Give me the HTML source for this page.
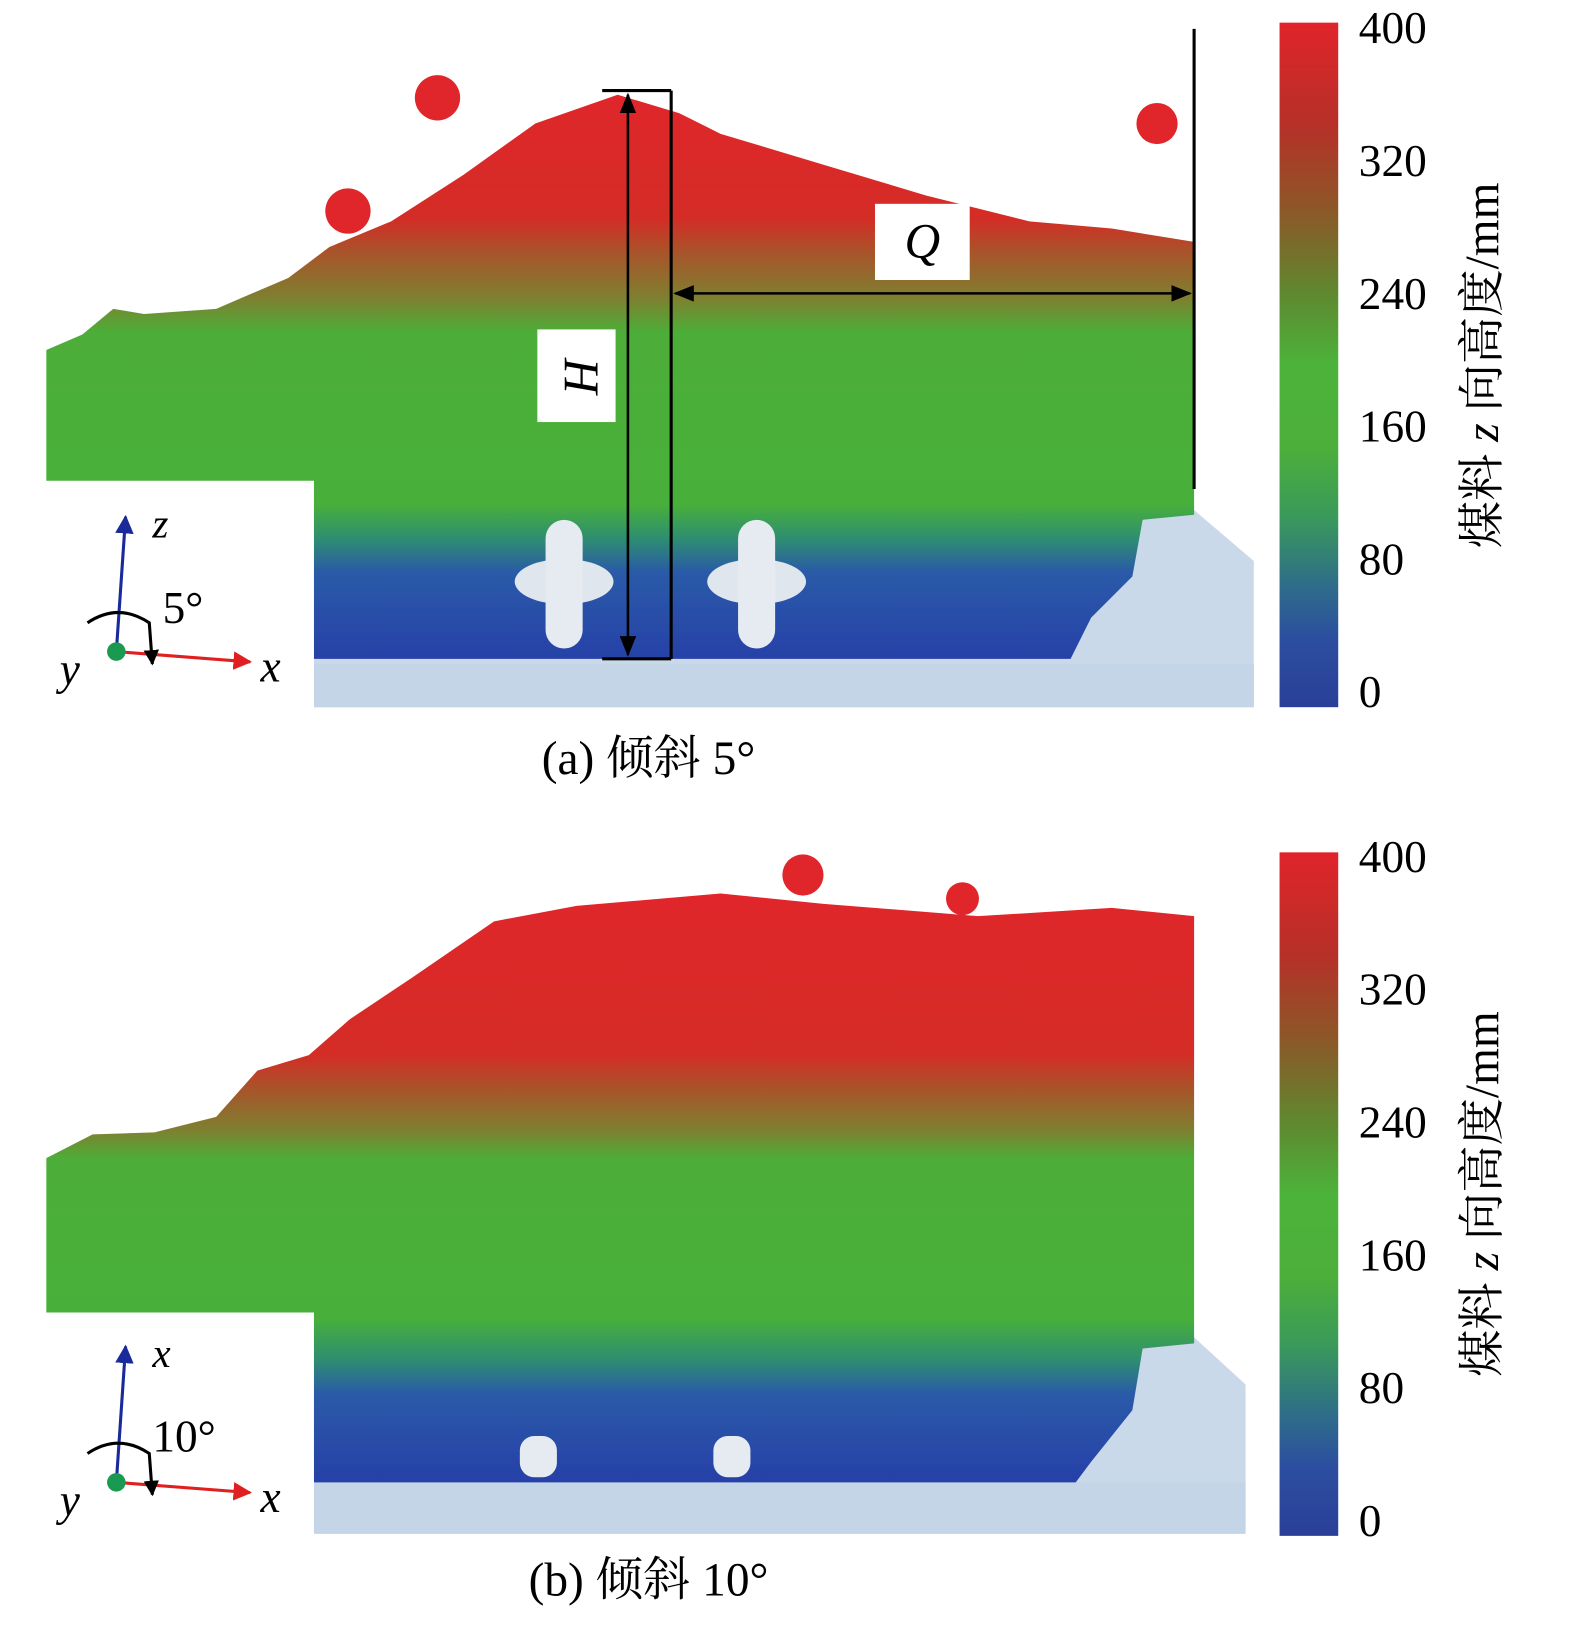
<!DOCTYPE html>
<html><head><meta charset="utf-8"><style>
html,body{margin:0;padding:0;background:#fff;width:1575px;height:1629px;overflow:hidden}
#wrap{position:absolute;left:0;top:0;width:1530px;height:1582px;transform:scale(1.0294);transform-origin:0 0}
svg text{font-family:"Liberation Serif","Noto Serif CJK SC",serif}
</style></head><body>
<div id="wrap">
<svg width="1530" height="1582" viewBox="0 0 1530 1582" xmlns="http://www.w3.org/2000/svg">
<defs>
<linearGradient id="cbar" x1="0" y1="0" x2="0" y2="1">
<stop offset="0" stop-color="#e0242a"/><stop offset="0.15" stop-color="#b63028"/><stop offset="0.28" stop-color="#8a5a28"/><stop offset="0.4" stop-color="#5e8a30"/><stop offset="0.5" stop-color="#4cb33a"/><stop offset="0.62" stop-color="#4caf3a"/><stop offset="0.72" stop-color="#3a9a5a"/><stop offset="0.82" stop-color="#2e6e88"/><stop offset="0.9" stop-color="#2c4ea0"/><stop offset="1" stop-color="#2a3f98"/>
</linearGradient>
<linearGradient id="pileA" x1="0" y1="90" x2="0" y2="645" gradientUnits="userSpaceOnUse">
<stop offset="0" stop-color="#e0262a"/><stop offset="0.22" stop-color="#d42c26"/><stop offset="0.28" stop-color="#a8542a"/><stop offset="0.36" stop-color="#7e8030"/><stop offset="0.42" stop-color="#4cae38"/><stop offset="0.72" stop-color="#48b03a"/><stop offset="0.78" stop-color="#2e8e70"/><stop offset="0.84" stop-color="#2a5aa8"/><stop offset="1" stop-color="#2640a8"/>
</linearGradient>
<linearGradient id="pileB" x1="0" y1="870" x2="0" y2="1440" gradientUnits="userSpaceOnUse">
<stop offset="0" stop-color="#e0262a"/><stop offset="0.27" stop-color="#d42c26"/><stop offset="0.33" stop-color="#a8542a"/><stop offset="0.4" stop-color="#7e8030"/><stop offset="0.45" stop-color="#4cae38"/><stop offset="0.72" stop-color="#48b03a"/><stop offset="0.79" stop-color="#2e8e70"/><stop offset="0.85" stop-color="#2a5aa8"/><stop offset="1" stop-color="#2640a8"/>
</linearGradient>
<marker id="ah" viewBox="0 0 10 10" refX="9" refY="5" markerWidth="8" markerHeight="8" orient="auto-start-reverse"><path d="M0,1 L10,5 L0,9 z" fill="#000"/></marker>
<marker id="ar" viewBox="0 0 10 10" refX="9" refY="5" markerWidth="6" markerHeight="6" orient="auto"><path d="M0,0 L10,5 L0,10 z" fill="#e02020"/></marker>
<marker id="ab" viewBox="0 0 10 10" refX="9" refY="5" markerWidth="6" markerHeight="6" orient="auto"><path d="M0,0 L10,5 L0,10 z" fill="#1a2a9a"/></marker>
<marker id="ak" viewBox="0 0 10 10" refX="9" refY="5" markerWidth="5" markerHeight="5" orient="auto"><path d="M0,0 L10,5 L0,10 z" fill="#000"/></marker>
</defs>

<!-- Panel A -->
<g>
<path d="M305,487 L1150,487 L1218,545 L1218,687 L305,687 z" fill="#c9d9e9"/>
<rect x="305" y="645" width="913" height="42" fill="#c3d5e6"/>
<path d="M45,340 L80,325 L110,300 L140,305 L210,300 L280,270 L320,240 L380,215 L450,170 L520,120 L600,92 L660,110 L700,130 L800,160 L900,190 L1000,215 L1080,222 L1160,235 L1160,500 L1110,505 L1100,560 L1060,600 L1040,640 L305,640 L305,467 L45,467 z" fill="url(#pileA)"/>
<circle cx="425" cy="95" r="22" fill="#e0262a"/>
<circle cx="338" cy="205" r="22" fill="#e0262a"/>
<circle cx="1124" cy="120" r="20" fill="#e0262a"/>
<ellipse cx="548" cy="565" rx="48" ry="22" fill="#dfe6ee"/>
<ellipse cx="735" cy="565" rx="48" ry="22" fill="#dfe6ee"/>
<rect x="530" y="505" width="36" height="125" rx="18" fill="#e6ebf1"/>
<rect x="717" y="505" width="36" height="125" rx="18" fill="#e6ebf1"/>
<!-- annotations -->
<line x1="585" y1="88" x2="652" y2="88" stroke="#000" stroke-width="3"/>
<line x1="585" y1="640" x2="652" y2="640" stroke="#000" stroke-width="3"/>
<line x1="652" y1="88" x2="652" y2="640" stroke="#000" stroke-width="3"/>
<line x1="610" y1="92" x2="610" y2="636" stroke="#000" stroke-width="2.5" marker-start="url(#ah)" marker-end="url(#ah)"/>
<rect x="522" y="320" width="76" height="90" fill="#fff"/>
<text x="560" y="365" font-size="48" font-style="italic" text-anchor="middle" dominant-baseline="middle" transform="rotate(90 560 365)">H</text>
<line x1="656" y1="285" x2="1156" y2="285" stroke="#000" stroke-width="2.5" marker-start="url(#ah)" marker-end="url(#ah)"/>
<line x1="1160" y1="28" x2="1160" y2="475" stroke="#000" stroke-width="3"/>
<rect x="850" y="198" width="92" height="74" fill="#fff"/>
<text x="896" y="250" font-size="48" font-style="italic" text-anchor="middle">Q</text>
<!-- axes icon -->
<g>
<line x1="113" y1="633" x2="122" y2="502" stroke="#1a2a9a" stroke-width="3" marker-end="url(#ab)"/>
<line x1="113" y1="633" x2="243" y2="643" stroke="#e02020" stroke-width="3" marker-end="url(#ar)"/>
<path d="M85,605 Q115,585 145,605 L148,645" fill="none" stroke="#000" stroke-width="3" marker-end="url(#ak)"/>
<circle cx="113" cy="633" r="9" fill="#1a9a50"/>
<text x="148" y="522" font-size="40" font-style="italic">z</text>
<text x="158" y="605" font-size="44">5°</text>
<text x="58" y="665" font-size="44" font-style="italic">y</text>
<text x="253" y="662" font-size="44" font-style="italic">x</text>
</g>
<rect x="1243" y="22" width="57" height="665" fill="url(#cbar)"/>
<g font-size="44">
<text x="1320" y="42">400</text><text x="1320" y="171">320</text><text x="1320" y="300">240</text><text x="1320" y="429">160</text><text x="1320" y="558">80</text><text x="1320" y="687">0</text>
</g>
<text x="0" y="0" font-size="46" text-anchor="middle" transform="translate(1455,355) rotate(-90)">煤料 <tspan font-style="italic">z</tspan> 向高度/mm</text>
<text x="630" y="752" font-size="46" text-anchor="middle">(a) 倾斜 5°</text>
</g>

<!-- Panel B -->
<g>
<path d="M305,1290 L1150,1290 L1210,1345 L1210,1490 L305,1490 z" fill="#c9d9e9"/>
<rect x="305" y="1440" width="905" height="50" fill="#c3d5e6"/>
<path d="M45,1125 L90,1102 L150,1100 L210,1085 L250,1040 L300,1025 L340,990 L400,950 L480,895 L560,880 L700,868 L800,878 L950,890 L1080,882 L1160,890 L1160,1305 L1110,1310 L1100,1370 L1060,1420 L1045,1440 L305,1440 L305,1275 L45,1275 z" fill="url(#pileB)"/>
<circle cx="780" cy="850" r="20" fill="#e0262a"/>
<circle cx="935" cy="873" r="16" fill="#e0262a"/>
<rect x="505" y="1395" width="36" height="40" rx="14" fill="#e6ebf1"/>
<rect x="693" y="1395" width="36" height="40" rx="14" fill="#e6ebf1"/>
<g>
<line x1="113" y1="1440" x2="122" y2="1308" stroke="#1a2a9a" stroke-width="3" marker-end="url(#ab)"/>
<line x1="113" y1="1440" x2="243" y2="1450" stroke="#e02020" stroke-width="3" marker-end="url(#ar)"/>
<path d="M85,1412 Q115,1392 145,1412 L148,1452" fill="none" stroke="#000" stroke-width="3" marker-end="url(#ak)"/>
<circle cx="113" cy="1440" r="9" fill="#1a9a50"/>
<text x="148" y="1328" font-size="40" font-style="italic">x</text>
<text x="148" y="1410" font-size="44">10°</text>
<text x="58" y="1472" font-size="44" font-style="italic">y</text>
<text x="253" y="1469" font-size="44" font-style="italic">x</text>
</g>
<rect x="1243" y="828" width="57" height="664" fill="url(#cbar)"/>
<g font-size="44">
<text x="1320" y="847">400</text><text x="1320" y="976">320</text><text x="1320" y="1105">240</text><text x="1320" y="1234">160</text><text x="1320" y="1363">80</text><text x="1320" y="1492">0</text>
</g>
<text x="0" y="0" font-size="46" text-anchor="middle" transform="translate(1455,1160) rotate(-90)">煤料 <tspan font-style="italic">z</tspan> 向高度/mm</text>
<text x="630" y="1550" font-size="46" text-anchor="middle">(b) 倾斜 10°</text>
</g>
</svg>
</div>
</body></html>
